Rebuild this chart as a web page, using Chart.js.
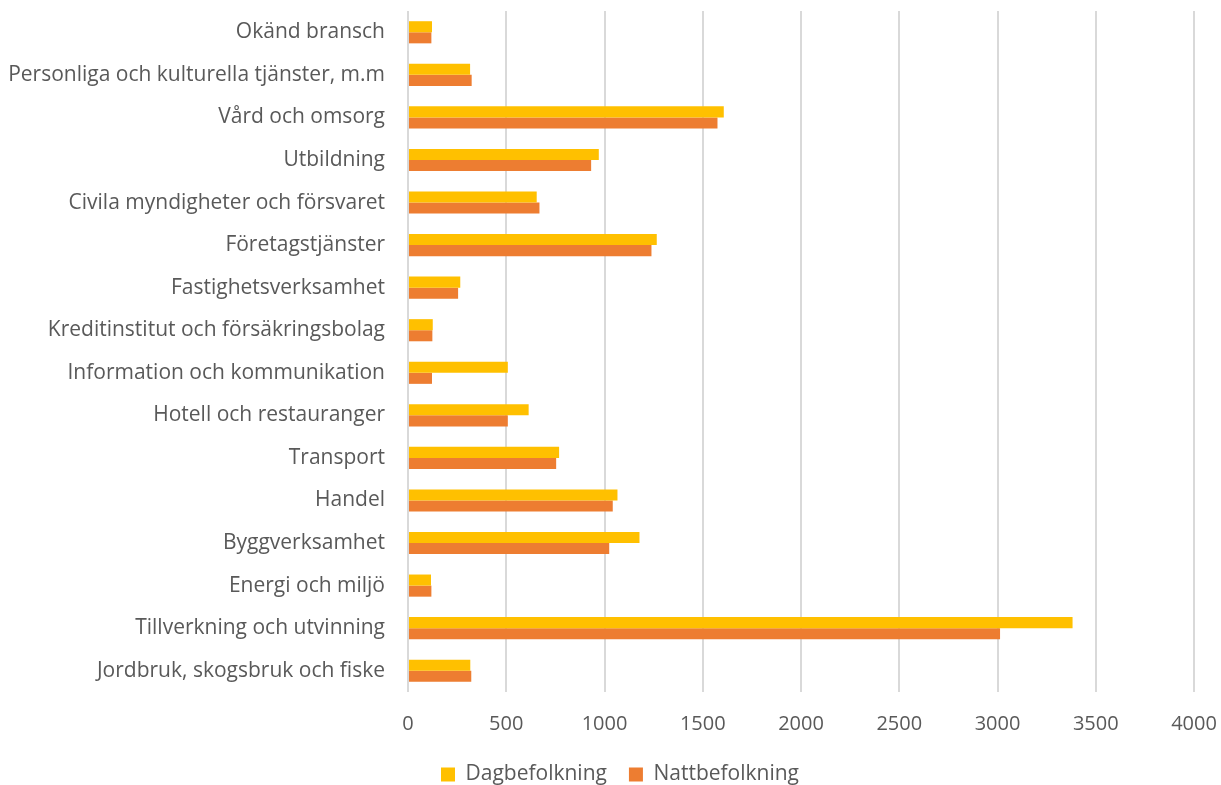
<!DOCTYPE html>
<html>
<head>
<meta charset="utf-8">
<script src="https://cdn.jsdelivr.net/npm/chart.js@4/dist/chart.umd.min.js"></script>
<style>
  html, body { margin: 0; padding: 0; background: #fff; overflow: hidden; }
  #wrap { width: 1221px; height: 795px; position: relative; }
</style>
</head>
<body>
<div id="wrap"><canvas id="chart"></canvas></div>
<script>
// categories, top to bottom as shown
const categories = [
    'Okänd bransch',
    'Personliga och kulturella tjänster, m.m',
    'Vård och omsorg',
    'Utbildning',
    'Civila myndigheter och försvaret',
    'Företagstjänster',
    'Fastighetsverksamhet',
    'Kreditinstitut och försäkringsbolag',
    'Information och kommunikation',
    'Hotell och restauranger',
    'Transport',
    'Handel',
    'Byggverksamhet',
    'Energi och miljö',
    'Tillverkning och utvinning',
    'Jordbruk, skogsbruk och fiske'
];

const dagbefolkning = [122, 316, 1607, 971, 655, 1266, 266, 126, 508, 614, 769, 1066, 1178, 117, 3382, 317];
const nattbefolkning = [119, 324, 1575, 932, 669, 1239, 255, 124, 122, 508, 754, 1042, 1024, 119, 3013, 322];

const xTicks = [0, 500, 1000, 1500, 2000, 2500, 3000, 3500, 4000];

const fontFamily = '"Open Sans", "Noto Sans", sans-serif';
const textColor = '#595959';

// the original legend sits a bit right of the canvas centre
const legendShift = {
    id: 'legendShift',
    afterLayout(chart) {
        chart.legend.left += 23;
        chart.legend.right += 23;
    }
};

const ctx = document.getElementById('chart').getContext('2d');
const chart = new Chart(ctx, {
    type: 'bar',
    data: {
        labels: categories,
        datasets: [{
            label: 'Dagbefolkning',
            data: dagbefolkning,
            backgroundColor: '#FFC000',
            borderWidth: 0
        }, {
            label: 'Nattbefolkning',
            data: nattbefolkning,
            backgroundColor: '#ED7D31',
            borderWidth: 0
        }]
    },
    plugins: [legendShift],
    options: {
        indexAxis: 'y',
        responsive: true,
        maintainAspectRatio: false,
        animation: false,
        layout: {
            padding: { top: 11, right: 27, left: 0, bottom: 0 }
        },
        datasets: {
            bar: {
                categoryPercentage: 0.52,
                barPercentage: 1.0
            }
        },
        scales: {
            x: {
                min: 0,
                max: 4000,
                afterBuildTicks: scale => {
                    scale.ticks = xTicks.map(v => ({ value: v }));
                },
                afterFit: scale => {
                    scale.height = 50;
                    scale.paddingLeft = 0;
                    scale.paddingRight = 0;
                },
                grid: {
                    color: '#D9D9D9',
                    lineWidth: 2,
                    drawTicks: false
                },
                border: { display: false },
                ticks: {
                    padding: 20,
                    color: textColor,
                    font: { family: fontFamily, size: 20 },
                    callback: value => String(value)
                }
            },
            y: {
                afterFit: scale => {
                    scale.width = 408;
                    scale.paddingTop = 0;
                    scale.paddingBottom = 0;
                },
                grid: { display: false, drawTicks: false },
                border: { display: false },
                ticks: {
                    padding: 23,
                    color: textColor,
                    autoSkip: false,
                    font: { family: fontFamily, size: 21 }
                }
            }
        },
        plugins: {
            legend: {
                position: 'bottom',
                labels: {
                    color: textColor,
                    boxWidth: 14,
                    boxHeight: 14,
                    padding: 22,
                    font: { family: fontFamily, size: 21 }
                }
            },
            tooltip: { enabled: false }
        }
    }
});
</script>
</body>
</html>
